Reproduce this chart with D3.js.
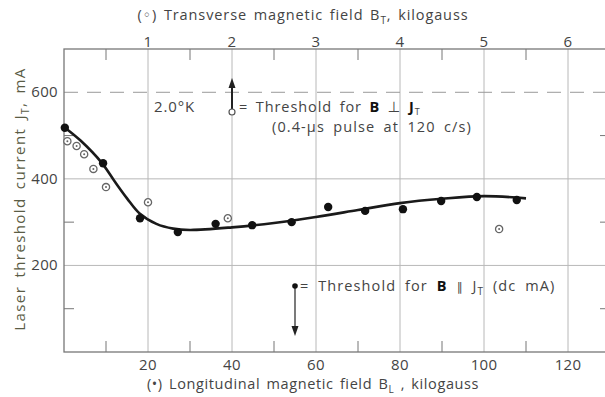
<!DOCTYPE html>
<html>
<head>
<script src="https://d3js.org/d3.v7.min.js"></script>
<style>
    body { margin: 0; background: #fff; }
    text { font-family: "Open Sans", "DejaVu Sans", sans-serif; }
    .frame { fill: none; stroke: #777; stroke-width: 1.3px; }
    .grid { stroke: #b8b8b8; stroke-width: 1px; }
    .tick-lab { fill: #444; font-size: 15px; letter-spacing: 0.3px; }
    .lab { fill: #444; font-size: 14.5px; letter-spacing: 0.9px; word-spacing: 2px; }
</style>
</head>
<body>
<svg id="chart" width="605" height="397"></svg>

<script>
// values
const longB = [0.2, 9.3, 18.1, 27.1, 36.1, 44.8, 54.2, 62.9, 71.7, 80.7, 89.8, 98.3, 107.8];   // kilogauss (bottom axis)
const longJ = [518, 436, 309, 277, 296, 293, 300, 335, 326, 330, 349, 358, 351];              // mA

const transB = [0.04, 0.15, 0.24, 0.35, 0.5, 1.0, 1.95, 5.18];   // kilogauss (top axis)
const transJ = [487, 476, 457, 423, 381, 346, 309, 284];

// smooth fitted curve
const curveB = [0, 4, 9, 12, 15, 18, 22, 26, 30, 40, 50, 60, 70, 80, 90, 100, 110];
const curveJ = [520, 488, 437, 395, 355, 320, 296, 285, 282, 288, 298, 312, 328, 344, 354, 360, 355];

const bottomTicks = [20, 40, 60, 80, 100, 120];
const bottomMinor = [10, 30, 50, 70, 90, 110];
const topTicks = [1, 2, 3, 4, 5, 6];
const yTicks = [200, 400, 600];
const yMinor = [100, 300, 500];

const svg = d3.select("#chart");
const x = d3.scaleLinear().domain([0, 130]).range([64, 610]);
const xt = d3.scaleLinear().domain([0, 6.5]).range([64, 610]);
const y = d3.scaleLinear().domain([0, 700]).range([352, 49]);

// grid
svg.selectAll("line.vgrid").data(bottomTicks).join("line")
    .attr("class", "grid")
    .attr("x1", d => x(d)).attr("x2", d => x(d))
    .attr("y1", y(700)).attr("y2", y(0));

svg.selectAll("line.hgrid").data(yTicks).join("line")
    .attr("class", "grid")
    .attr("x1", x(0)).attr("x2", x(130))
    .attr("y1", d => y(d)).attr("y2", d => y(d))
    .style("stroke-dasharray", d => d == 600 ? "14,9" : null)
    .style("stroke", d => d == 600 ? "#999" : null);

// minor ticks, pointing inward
svg.selectAll("line.bmin").data(bottomMinor).join("line")
    .attr("x1", d => x(d)).attr("x2", d => x(d))
    .attr("y1", y(0)).attr("y2", y(0) - 11)
    .style("stroke", "#777");
svg.selectAll("line.tmin").data(bottomMinor).join("line")
    .attr("x1", d => x(d)).attr("x2", d => x(d))
    .attr("y1", y(700)).attr("y2", y(700) + 11)
    .style("stroke", "#777");
svg.selectAll("line.lmin").data(yMinor).join("line")
    .attr("x1", x(0)).attr("x2", x(0) + 10)
    .attr("y1", d => y(d)).attr("y2", d => y(d))
    .style("stroke", "#777");
svg.selectAll("line.rmin").data(yMinor).join("line")
    .attr("x1", x(130)).attr("x2", x(130) - 10)
    .attr("y1", d => y(d)).attr("y2", d => y(d))
    .style("stroke", "#777");

// frame
svg.append("rect").attr("class", "frame")
    .attr("x", x(0)).attr("y", y(700))
    .attr("width", x(130) - x(0)).attr("height", y(0) - y(700));

// tick labels
svg.selectAll("text.bt").data(bottomTicks).join("text")
    .attr("class", "tick-lab")
    .attr("x", d => x(d)).attr("y", 370)
    .attr("text-anchor", "middle").text(d => d);
svg.selectAll("text.tt").data(topTicks).join("text")
    .attr("class", "tick-lab")
    .attr("x", d => xt(d)).attr("y", 47)
    .attr("text-anchor", "middle").text(d => d);
svg.selectAll("text.yt").data(yTicks).join("text")
    .attr("class", "tick-lab")
    .attr("x", 58).attr("y", d => y(d) + 5)
    .attr("text-anchor", "end").text(d => d);

// axis titles
const tTop = svg.append("text").attr("class", "lab")
    .attr("x", 303).attr("y", 20).attr("text-anchor", "middle");
tTop.append("tspan").text("(\u25E6) Transverse magnetic field B");
tTop.append("tspan").attr("dy", 4).style("font-size", "10px").text("T");
tTop.append("tspan").attr("dy", -4).text(", kilogauss");

const tBot = svg.append("text").attr("class", "lab")
    .attr("x", 313).attr("y", 389).attr("text-anchor", "middle")
    .style("letter-spacing", "0.6px");
tBot.append("tspan").text("(\u2022) Longitudinal magnetic field B");
tBot.append("tspan").attr("dy", 4).style("font-size", "10px").text("L");
tBot.append("tspan").attr("dy", -4).text(" , kilogauss");

const tLeft = svg.append("text").attr("class", "lab")
    .attr("transform", "translate(25,199) rotate(-90)")
    .attr("text-anchor", "middle")
    .style("fill", "#5a5c45")
    .style("font-size", "15px")
    .style("letter-spacing", "1.4px")
    .style("word-spacing", "3px");
tLeft.append("tspan").text("Laser threshold current J");
tLeft.append("tspan").attr("dy", 4).style("font-size", "10px").text("T");
tLeft.append("tspan").attr("dy", -4).text(",  mA");

// fitted curve
const line = d3.line()
    .x((d, i) => x(curveB[i]))
    .y(d => y(d))
    .curve(d3.curveCatmullRom);
svg.append("path").datum(curveJ)
    .attr("d", line)
    .style("fill", "none")
    .style("stroke", "#1a1a1a")
    .style("stroke-width", "2.6px");

// transverse points (open)
svg.selectAll("g.open").data(transJ).join("g")
    .attr("transform", (d, i) => "translate(" + xt(transB[i]) + "," + y(d) + ")")
    .each(function() {
        d3.select(this).append("circle").attr("r", 3.6)
            .style("fill", "#fff").style("stroke", "#666").style("stroke-width", "1.3px");
        d3.select(this).append("circle").attr("r", 1).style("fill", "#666");
    });

// longitudinal points (filled)
svg.selectAll("circle.filled").data(longJ).join("circle")
    .attr("cx", (d, i) => x(longB[i]))
    .attr("cy", d => y(d))
    .attr("r", 4.2)
    .style("fill", "#111");

// annotations
svg.append("text").attr("class", "lab")
    .attr("x", 154).attr("y", 112).style("font-size", "15px").text("2.0\u00B0K");

// legend: transverse marker with up arrow
const l1x = xt(2.0), l1y = 112;
svg.append("line").attr("x1", l1x).attr("x2", l1x).attr("y1", l1y).attr("y2", 86)
    .style("stroke", "#222").style("stroke-width", "2px");
svg.append("path").attr("d", d3.line()([[l1x - 3.5, 88], [l1x, 78], [l1x + 3.5, 88]]))
    .style("fill", "#222");
svg.append("circle").attr("cx", l1x).attr("cy", l1y).attr("r", 3)
    .style("fill", "#fff").style("stroke", "#555").style("stroke-width", "1.2px");
const leg1 = svg.append("text").attr("class", "lab")
    .attr("x", l1x + 7).attr("y", l1y)
    .style("word-spacing", "3px");
leg1.append("tspan").text("= Threshold for ");
leg1.append("tspan").style("font-weight", "bold").style("fill", "#111").text("B");
leg1.append("tspan").text(" \u22A5 ");
leg1.append("tspan").style("font-weight", "bold").style("fill", "#111").text("J");
leg1.append("tspan").attr("dy", 3).style("font-size", "9px").text("T");
svg.append("text").attr("class", "lab")
    .attr("x", 272).attr("y", 132)
    .style("letter-spacing", "1.1px").style("word-spacing", "3.5px")
    .text("(0.4-\u00B5s pulse at 120 c/s)");

// legend: longitudinal marker with down arrow
const l2x = x(55), l2y = 286;
svg.append("line").attr("x1", l2x).attr("x2", l2x).attr("y1", l2y).attr("y2", 328)
    .style("stroke", "#333").style("stroke-width", "1.3px");
svg.append("path").attr("d", d3.line()([[l2x - 3.5, 326], [l2x, 336], [l2x + 3.5, 326]]))
    .style("fill", "#222");
svg.append("circle").attr("cx", l2x).attr("cy", l2y).attr("r", 2.8).style("fill", "#111");
const leg2 = svg.append("text").attr("class", "lab")
    .attr("x", l2x + 5).attr("y", l2y + 5)
    .style("letter-spacing", "1.1px").style("word-spacing", "4px");
leg2.append("tspan").text("= Threshold for ");
leg2.append("tspan").style("font-weight", "bold").style("fill", "#111").text("B");
leg2.append("tspan").style("font-family", "'DejaVu Sans'").style("font-size", "12px").text(" \u2225 ");
leg2.append("tspan").text("J");
leg2.append("tspan").attr("dy", 4).style("font-size", "10px").text("T");
leg2.append("tspan").attr("dy", -4).text(" (dc mA)");
</script>
</body>
</html>
